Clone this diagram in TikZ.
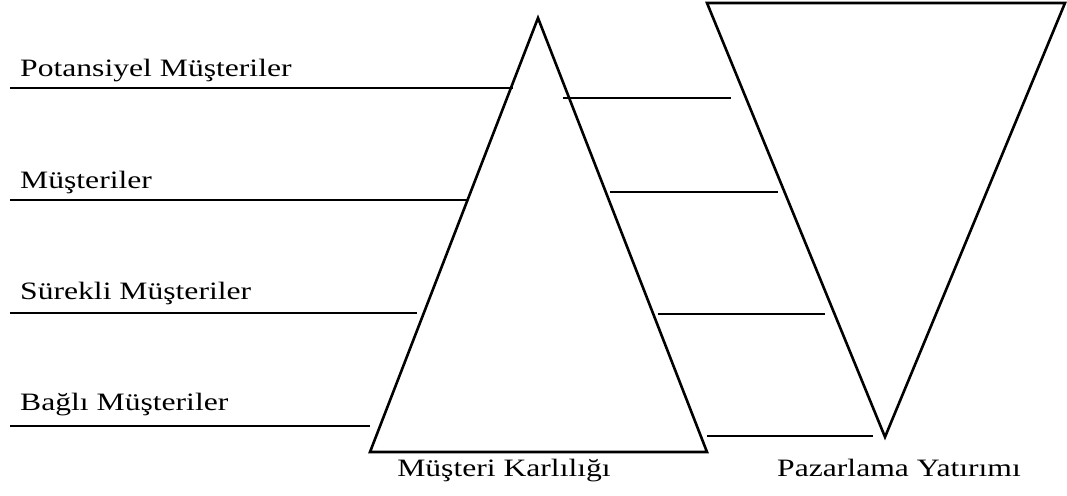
\documentclass[tikz,border=0pt]{standalone}
\usepackage{fontspec}
\setmainfont{Liberation Serif}[FakeStretch=1.265]
\usetikzlibrary{positioning}

\begin{document}
\begin{tikzpicture}[
    x=1pt,y=-1pt,
    tri/.style={line width=2.6pt,line join=miter},
    lvl/.style={line width=1.4pt},
    lab/.style={anchor=base west,inner sep=0pt,font=\fontsize{25}{29}\selectfont},
    title/.style={anchor=base,inner sep=0pt,font=\fontsize{25}{29}\selectfont}
]
\useasboundingbox (0,0) rectangle (1067,495);

% customer profitability pyramid
\coordinate (A) at (538,18);
\coordinate (Bl) at (370,452);
\coordinate (Br) at (707,452);
\draw[tri] (A) -- (Bl) -- (Br) -- cycle;

% marketing investment, inverted
\coordinate (Tl) at (707,3);
\coordinate (Tr) at (1065,3);
\coordinate (V) at (885,437);
\draw[tri] (Tl) -- (Tr) -- (V) -- cycle;

% customer levels
\node[lab] (p) at (20,76) {Potansiyel Müşteriler};
\node[lab] (m) at (20,188) {Müşteriler};
\node[lab] (s) at (20,299) {Sürekli Müşteriler};
\node[lab] (b) at (20,410) {Bağlı Müşteriler};

\coordinate (p0) at (10,88);  \coordinate (p1) at (513,88);
\coordinate (m0) at (10,200); \coordinate (m1) at (468,200);
\coordinate (s0) at (10,313); \coordinate (s1) at (417,313);
\coordinate (b0) at (10,426); \coordinate (b1) at (370,426);
\draw[lvl] (p0) -- (p1);
\draw[lvl] (m0) -- (m1);
\draw[lvl] (s0) -- (s1);
\draw[lvl] (b0) -- (b1);

% links between the two triangles
\coordinate (r10) at (563,98);  \coordinate (r11) at (731,98);
\coordinate (r20) at (610,192); \coordinate (r21) at (778,192);
\coordinate (r30) at (658,314); \coordinate (r31) at (825,314);
\coordinate (r40) at (707,436); \coordinate (r41) at (873,436);
\draw[lvl] (r10) -- (r11);
\draw[lvl] (r20) -- (r21);
\draw[lvl] (r30) -- (r31);
\draw[lvl] (r40) -- (r41);

% captions
\node[title] (kar) at (504,476) {Müşteri Karlılığı};
\node[title] (yat) at (899,476) {Pazarlama Yatırımı};

\end{tikzpicture}
\end{document}
